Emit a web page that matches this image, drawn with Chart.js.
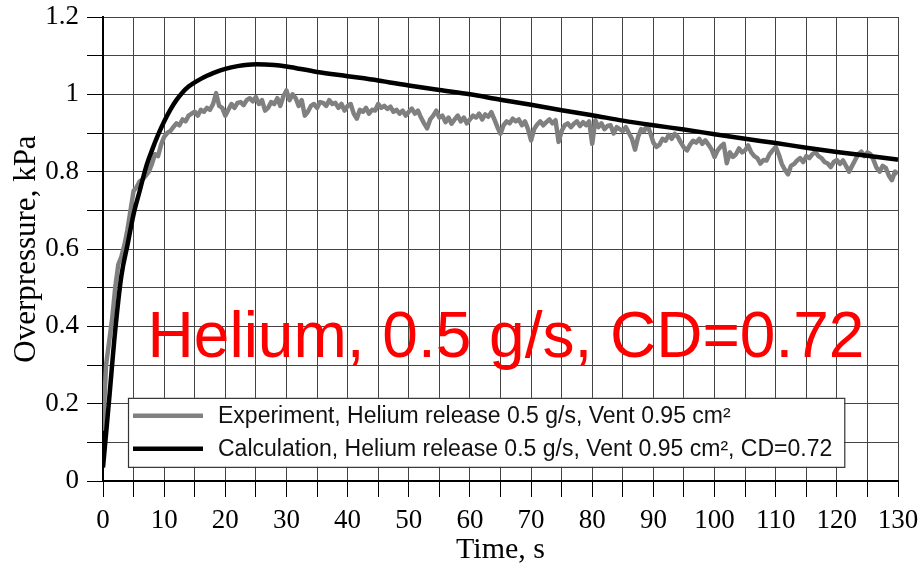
<!DOCTYPE html>
<html>
<head>
<meta charset="utf-8">
<script src="https://cdn.jsdelivr.net/npm/chart.js@4.4.1/dist/chart.umd.min.js"></script>
<style>
  body { margin: 0; background: #fff; }
  #wrap { width: 920px; height: 568px; }
</style>
</head>
<body>
<div id="wrap"><canvas id="myChart" width="920" height="568"></canvas></div>
<script>
// experiment (every 0.5 s)
const expTime = [
    0, 0.5, 1, 1.5, 2, 2.5, 3, 3.5, 4, 4.5, 5, 5.5, 6, 6.5, 7, 7.5, 8, 8.5, 9, 9.5,
    10, 10.5, 11, 11.5, 12, 12.5, 13, 13.5, 14, 14.5, 15, 15.5, 16, 16.5, 17, 17.5, 18, 18.5, 19, 19.5, 20,
    20.5, 21, 21.5, 22, 22.5, 23, 23.5, 24, 24.5, 25, 25.5, 26, 26.5, 27, 27.5, 28, 28.5, 29, 29.5, 30,
    30.5, 31, 31.5, 32, 32.5, 33, 33.5, 34, 34.5, 35, 35.5, 36, 36.5, 37, 37.5, 38, 38.5, 39, 39.5, 40,
    40.5, 41, 41.5, 42, 42.5, 43, 43.5, 44, 44.5, 45, 45.5, 46, 46.5, 47, 47.5, 48, 48.5, 49, 49.5, 50,
    50.5, 51, 51.5, 52, 52.5, 53, 53.5, 54, 54.5, 55, 55.5, 56, 56.5, 57, 57.5, 58, 58.5, 59, 59.5, 60,
    60.5, 61, 61.5, 62, 62.5, 63, 63.5, 64, 64.5, 65, 65.5, 66, 66.5, 67, 67.5, 68, 68.5, 69, 69.5, 70,
    70.5, 71, 71.5, 72, 72.5, 73, 73.5, 74, 74.5, 75, 75.5, 76, 76.5, 77, 77.5, 78, 78.5, 79, 79.5, 80,
    80.5, 81, 81.5, 82, 82.5, 83, 83.5, 84, 84.5, 85, 85.5, 86, 86.5, 87, 87.5, 88, 88.5, 89, 89.5, 90,
    90.5, 91, 91.5, 92, 92.5, 93, 93.5, 94, 94.5, 95, 95.5, 96, 96.5, 97, 97.5, 98, 98.5, 99, 99.5, 100,
    100.5, 101, 101.5, 102, 102.5, 103, 103.5, 104, 104.5, 105, 105.5, 106, 106.5, 107, 107.5, 108, 108.5, 109, 109.5, 110,
    110.5, 111, 111.5, 112, 112.5, 113, 113.5, 114, 114.5, 115, 115.5, 116, 116.5, 117, 117.5, 118, 118.5, 119, 119.5, 120,
    120.5, 121, 121.5, 122, 122.5, 123, 123.5, 124, 124.5, 125, 125.5, 126, 126.5, 127, 127.5, 128, 128.5, 129, 129.5, 130];
const expValue = [
    0.13, 0.30, 0.36, 0.42, 0.50, 0.56, 0.58, 0.61, 0.65, 0.70, 0.75, 0.76, 0.775, 0.78, 0.79, 0.80, 0.82, 0.845, 0.84, 0.87,
    0.89, 0.90, 0.905, 0.915, 0.925, 0.92, 0.935, 0.93, 0.945, 0.95, 0.955, 0.945, 0.96, 0.955, 0.965, 0.96, 0.975, 1.003, 0.97, 0.965, 0.945,
    0.96, 0.975, 0.965, 0.978, 0.98, 0.972, 0.985, 0.99, 0.982, 0.993, 0.975, 0.985, 0.958, 0.965, 0.98, 0.975, 0.99, 0.97, 0.995, 1.01,
    0.985, 1.0, 0.99, 0.97, 0.985, 0.945, 0.955, 0.97, 0.975, 0.965, 0.98, 0.978, 0.97, 0.985, 0.975, 0.978, 0.965, 0.975, 0.958, 0.97,
    0.975, 0.95, 0.937, 0.96, 0.955, 0.965, 0.95, 0.96, 0.958, 0.975, 0.965, 0.97, 0.962, 0.968, 0.955, 0.96, 0.95, 0.958, 0.945, 0.955,
    0.963, 0.95, 0.958, 0.94, 0.925, 0.912, 0.935, 0.945, 0.958, 0.94, 0.945, 0.928, 0.94, 0.924, 0.935, 0.945, 0.93, 0.94, 0.925, 0.935,
    0.945, 0.94, 0.95, 0.935, 0.948, 0.942, 0.954, 0.935, 0.915, 0.898, 0.92, 0.93, 0.925, 0.937, 0.93, 0.935, 0.92, 0.93, 0.91, 0.881,
    0.91, 0.922, 0.93, 0.92, 0.928, 0.935, 0.925, 0.933, 0.877, 0.905, 0.92, 0.925, 0.915, 0.924, 0.93, 0.918, 0.928, 0.92, 0.93, 0.872,
    0.933, 0.915, 0.925, 0.91, 0.918, 0.92, 0.899, 0.915, 0.91, 0.905, 0.915, 0.90, 0.885, 0.857, 0.89, 0.91, 0.905, 0.922, 0.90, 0.875,
    0.864, 0.87, 0.885, 0.88, 0.895, 0.885, 0.898, 0.89, 0.875, 0.862, 0.855, 0.87, 0.88, 0.875, 0.885, 0.872, 0.881, 0.87, 0.858, 0.838,
    0.855, 0.865, 0.872, 0.822, 0.85, 0.838, 0.845, 0.86, 0.85, 0.855, 0.868, 0.85, 0.84, 0.835, 0.821, 0.83, 0.829, 0.845, 0.855, 0.864,
    0.845, 0.82, 0.805, 0.793, 0.815, 0.82, 0.829, 0.835, 0.825, 0.84, 0.835, 0.845, 0.851, 0.84, 0.835, 0.825, 0.821, 0.812, 0.825, 0.83,
    0.82, 0.829, 0.815, 0.80, 0.815, 0.83, 0.845, 0.852, 0.84, 0.85, 0.845, 0.83, 0.81, 0.80, 0.815, 0.81, 0.79, 0.778, 0.80, 0.795];

// calculation curve
const calcTime = [0, 1, 2, 3, 4, 5, 6, 7, 8, 9, 10, 11, 12, 13, 14, 15, 16, 17, 18, 20, 22, 25, 28, 30,
    35, 40, 45, 50, 55, 60, 65, 70, 75, 80, 85, 90, 95, 100, 105, 110, 115, 120, 125, 130];
const calcValue = [0.035, 0.21, 0.39, 0.53, 0.61, 0.69, 0.75, 0.81, 0.855, 0.895, 0.93, 0.96, 0.985, 1.005, 1.02, 1.031, 1.04, 1.048, 1.055, 1.066, 1.073, 1.078, 1.076, 1.072,
    1.058, 1.047, 1.036, 1.023, 1.011, 1.0, 0.986, 0.973, 0.959, 0.946, 0.932, 0.92, 0.909, 0.897, 0.885, 0.874, 0.862, 0.851, 0.841, 0.831];

const expLabel = 'Experiment, Helium release 0.5 g/s, Vent 0.95 cm\u00B2';
const calcLabel = 'Calculation, Helium release 0.5 g/s, Vent 0.95 cm\u00B2, CD=0.72';
const noteText = 'Helium, 0.5 g/s, CD=0.72';
const notePos = { x: 65.9, y: 0.32 };

const xMin = 0, xMax = 130, xStep = 5, xLabelStep = 10;
const yMin = 0, yMax = 1.2, yStep = 0.1;

const serif = '"Liberation Serif", "Times New Roman", serif';
const sans = '"Liberation Sans", Arial, sans-serif';

// legend box inside the plot + the big red note
const overlay = {
    id: 'overlay',
    afterDatasetsDraw(chart) {
        const ctx = chart.ctx;
        const area = chart.chartArea;
        const xs = chart.scales.x, ys = chart.scales.y;

        ctx.save();
        ctx.font = '64px ' + sans;
        ctx.fillStyle = '#ff0000';
        ctx.textAlign = 'center';
        ctx.textBaseline = 'alphabetic';
        ctx.fillText(noteText, xs.getPixelForValue(notePos.x), ys.getPixelForValue(notePos.y));

        // legend
        ctx.font = '23px ' + sans;
        const sets = [chart.data.datasets[1], chart.data.datasets[0]];
        let w = 0;
        sets.forEach(d => { w = Math.max(w, ctx.measureText(d.label).width); });
        const bx = area.left + 25, by = ys.getPixelForValue(0.215);
        const bw = 90 + w + 12, bh = 69;
        ctx.fillStyle = '#fff';
        ctx.fillRect(bx, by, bw, bh);
        ctx.strokeStyle = '#333';
        ctx.lineWidth = 1.2;
        ctx.strokeRect(bx + 0.5, by + 0.5, bw, bh);
        ctx.textAlign = 'left';
        ctx.textBaseline = 'middle';
        sets.forEach((d, i) => {
            const cy = by + 18 + i * 33;
            ctx.strokeStyle = d.borderColor;
            ctx.lineWidth = 4.5;
            ctx.beginPath();
            ctx.moveTo(bx + 5, cy);
            ctx.lineTo(bx + 75, cy);
            ctx.stroke();
            ctx.fillStyle = '#111';
            ctx.fillText(d.label, bx + 90, cy + 1);
        });
        ctx.restore();
    }
};

const ctx = document.getElementById('myChart').getContext('2d');
new Chart(ctx, {
    type: 'line',
    data: {
        datasets: [{
            label: calcLabel,
            data: calcTime.map((t, i) => ({ x: t, y: calcValue[i] })),
            borderColor: '#000000',
            borderWidth: 4.5,
            pointRadius: 0,
            cubicInterpolationMode: 'monotone',
            fill: false
        }, {
            label: expLabel,
            data: expTime.map((t, i) => ({ x: t, y: expValue[i] })),
            borderColor: '#808080',
            borderWidth: 4.5,
            borderJoinStyle: 'round',
            pointRadius: 0,
            tension: 0,
            fill: false
        }]
    },
    options: {
        responsive: false,
        animation: false,
        layout: { padding: { top: 17, right: 22, left: 0, bottom: 0 } },
        plugins: {
            legend: { display: false },
            tooltip: { enabled: false }
        },
        scales: {
            x: {
                type: 'linear',
                min: xMin,
                max: xMax,
                afterFit: s => { s.height = 87; s.paddingLeft = 0; s.paddingRight = 0; },
                ticks: {
                    stepSize: xStep,
                    autoSkip: false,
                    maxRotation: 0,
                    padding: 8,
                    color: '#000',
                    font: { family: serif, size: 27 },
                    callback: v => (v % xLabelStep === 0 ? String(v) : '')
                },
                grid: { color: '#444', lineWidth: 1, tickLength: 16, tickColor: '#000' },
                border: { color: '#000', width: 2 },
                title: {
                    display: true,
                    text: 'Time, s',
                    color: '#000',
                    font: { family: serif, size: 30 },
                    padding: { top: 0, bottom: 0 }
                }
            },
            y: {
                min: yMin,
                max: yMax,
                afterFit: s => { s.width = 103; s.paddingTop = 0; s.paddingBottom = 0; },
                ticks: {
                    stepSize: yStep,
                    autoSkip: false,
                    padding: 8,
                    color: '#000',
                    font: { family: serif, size: 27 },
                    callback: v => {
                        const r = Math.round(v * 10);
                        return r % 2 === 0 ? String(r / 10) : '';
                    }
                },
                grid: { color: '#444', lineWidth: 1, tickLength: 16, tickColor: '#000' },
                border: { color: '#000', width: 2 },
                title: {
                    display: true,
                    text: 'Overpressure, kPa',
                    color: '#000',
                    font: { family: serif, size: 31 },
                    padding: { top: 8, bottom: 0 }
                }
            }
        }
    },
    plugins: [overlay]
});
</script>
</body>
</html>
